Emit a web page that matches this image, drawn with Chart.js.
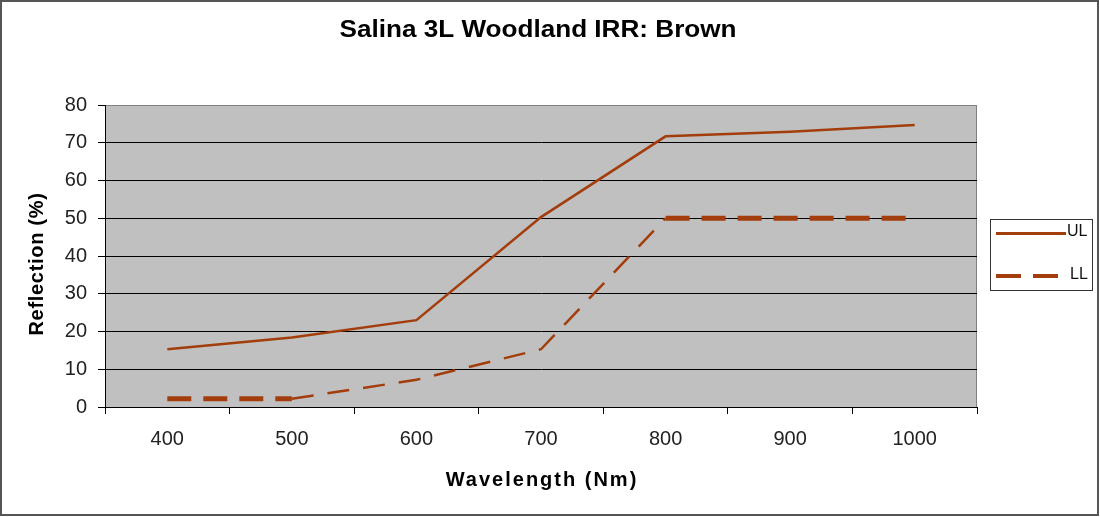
<!DOCTYPE html>
<html>
<head>
<meta charset="utf-8">
<script src="https://cdn.jsdelivr.net/npm/chart.js@4"></script>
<style>
  html, body { margin: 0; padding: 0; background: #fff; }
  #wrap { width: 1100px; height: 517px; position: relative; }
</style>
</head>
<body>
<div id="wrap"><canvas id="c" width="1100" height="517"></canvas></div>
<script>
const chartTitle = 'Salina 3L Woodland IRR: Brown';
const xTitle = 'Wavelength (Nm)';
const yTitle = 'Reflection (%)';
const categories = ['400', '500', '600', '700', '800', '900', '1000'];
const ulValues = [15.3, 18.4, 23, 50.3, 71.7, 72.9, 74.7];
const llValues = [2.2, 2.2, 7.2, 15.3, 50, 50, 50];
const yTicks = [0, 10, 20, 30, 40, 50, 60, 70, 80];

const FONT = '"Liberation Sans", Arial, Helvetica, sans-serif';
const LINE = '#a33d0c';

const frameAndBg = {
  id: 'frameAndBg',
  beforeDraw(chart) {
    const { ctx, chartArea: a } = chart;
    ctx.save();
    ctx.fillStyle = '#fff';
    ctx.fillRect(0, 0, chart.width, chart.height);
    ctx.strokeStyle = '#555';
    ctx.lineWidth = 2;
    ctx.strokeRect(1, 1, 1097, 514);
    ctx.fillStyle = '#c0c0c0';
    ctx.fillRect(a.left, a.top, a.right - a.left, a.bottom - a.top);
    ctx.strokeStyle = '#808080';
    ctx.lineWidth = 1;
    ctx.strokeRect(a.left + 0.5, a.top + 0.5, a.right - a.left - 1, a.bottom - a.top);
    ctx.restore();
  },
  afterDraw(chart) {
    const { ctx, chartArea: a } = chart;
    ctx.save();
    // chart title
    ctx.fillStyle = '#000';
    ctx.font = 'bold 23px ' + FONT;
    ctx.textAlign = 'center';
    ctx.textBaseline = 'alphabetic';
    const w = ctx.measureText(chartTitle).width;
    ctx.translate(538, 37);
    ctx.scale(397 / w, 1);
    ctx.fillText(chartTitle, 0, 0);
    ctx.restore();

    // x axis title
    ctx.save();
    ctx.fillStyle = '#000';
    ctx.font = 'bold 20px ' + FONT;
    ctx.letterSpacing = '2px';
    ctx.textAlign = 'center';
    ctx.fillText(xTitle, (a.left + a.right) / 2 + 1, 486);
    ctx.restore();

    // y axis title
    ctx.save();
    ctx.fillStyle = '#000';
    ctx.font = 'bold 20px ' + FONT;
    ctx.letterSpacing = '0.7px';
    ctx.textAlign = 'center';
    ctx.translate(43, 264);
    ctx.rotate(-Math.PI / 2);
    ctx.fillText(yTitle, 0, 0);
    ctx.restore();

    // legend
    ctx.save();
    ctx.strokeStyle = '#333';
    ctx.lineWidth = 1;
    ctx.strokeRect(990.5, 219.5, 102, 71);
    const ds = chart.data.datasets;
    ctx.font = '16px ' + FONT;
    ctx.fillStyle = '#111';
    ctx.textBaseline = 'middle';
    ctx.textAlign = 'left';
    // UL
    ctx.strokeStyle = ds[0].borderColor;
    ctx.lineWidth = 3;
    ctx.beginPath();
    ctx.moveTo(996, 233.5);
    ctx.lineTo(1066, 233.5);
    ctx.stroke();
    ctx.fillText(ds[0].label, 1067, 232);
    // LL
    ctx.strokeStyle = ds[1].borderColor;
    ctx.lineWidth = 4;
    ctx.setLineDash([25, 12]);
    ctx.beginPath();
    ctx.moveTo(996, 276);
    ctx.lineTo(1058, 276);
    ctx.stroke();
    ctx.setLineDash([]);
    ctx.fillText(ds[1].label, 1070, 275);
    ctx.restore();
  }
};

const isFlat = c => c.p0.parsed.y === c.p1.parsed.y;

new Chart(document.getElementById('c'), {
  type: 'line',
  data: {
    labels: categories,
    datasets: [
      {
        label: 'UL',
        data: ulValues,
        borderColor: LINE,
        backgroundColor: LINE,
        borderWidth: 2.5,
        pointRadius: 0,
        tension: 0,
        fill: false
      },
      {
        label: 'LL',
        data: llValues,
        borderColor: LINE,
        backgroundColor: LINE,
        borderWidth: 2.5,
        borderDash: [22, 14],
        pointRadius: 0,
        tension: 0,
        fill: false,
        segment: {
          borderWidth: c => isFlat(c) ? 5 : 2.5,
          borderDash: c => isFlat(c) ? [24, 12] : [22, 14]
        }
      }
    ]
  },
  options: {
    responsive: false,
    animation: false,
    devicePixelRatio: 1,
    layout: { padding: { left: 0, right: 123, top: 105, bottom: 0 } },
    plugins: {
      legend: { display: false },
      title: { display: false },
      tooltip: { enabled: false }
    },
    scales: {
      x: {
        type: 'category',
        offset: true,
        afterFit: s => { s.height = 110; },
        grid: {
          display: true,
          drawOnChartArea: false,
          drawTicks: true,
          tickLength: 7,
          color: '#000',
          offset: true
        },
        border: { display: true, color: '#000', width: 1 },
        ticks: {
          color: '#222',
          padding: 13,
          maxRotation: 0,
          font: { family: FONT, size: 20 }
        }
      },
      y: {
        min: 0,
        max: 80,
        afterFit: s => { s.width = 105; },
        afterBuildTicks: s => { s.ticks = yTicks.map(v => ({ value: v })); },
        grid: {
          color: c => (c.tick && c.tick.value === 80) ? '#808080' : '#000',
          tickColor: '#000',
          tickLength: 7,
          drawTicks: true
        },
        border: { display: true, color: '#000', width: 1 },
        ticks: {
          color: '#222',
          padding: 11,
          font: { family: FONT, size: 20 }
        }
      }
    }
  },
  plugins: [frameAndBg]
});
</script>
</body>
</html>
